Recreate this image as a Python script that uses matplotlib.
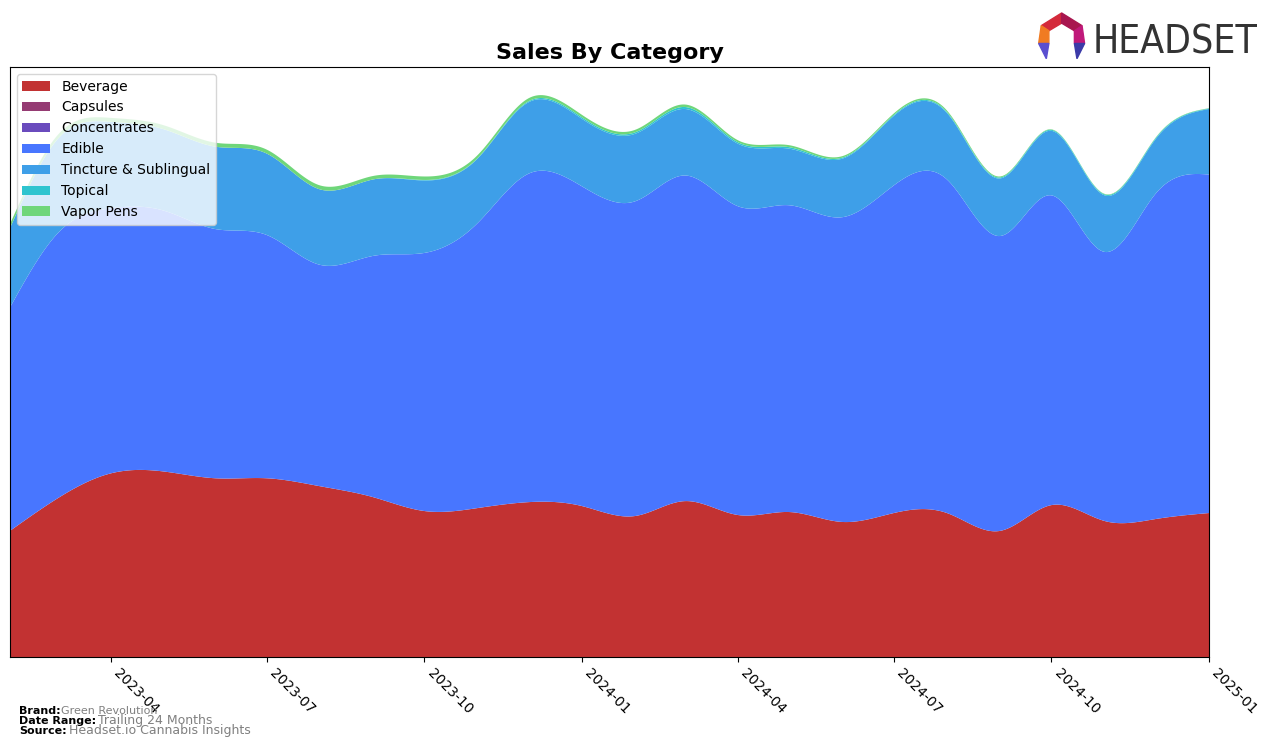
import numpy as np
import pandas as pd
import matplotlib.pyplot as plt
import matplotlib.dates as mdates
from matplotlib.patches import Polygon

months = pd.date_range("2023-02-01", "2025-01-01", freq="MS")

categories = ["Beverage", "Capsules", "Concentrates", "Edible",
              "Tincture & Sublingual", "Topical", "Vapor Pens"]
colors = ["#c23232", "#953b73", "#6a4bbd", "#4876ff",
          "#3e9fe8", "#2ec4cf", "#6fd67a"]

beverage = [127, 160, 185, 187, 180, 180, 172, 161, 147, 150, 156, 152,
            142, 157, 143, 146, 136, 145, 145, 127, 153, 137, 139, 145]
capsules = [0] * 24
concentrates = [0] * 24
edible = [225, 267, 267, 263, 251, 245, 223, 243, 260, 287, 331, 322,
          317, 328, 311, 309, 307, 330, 336, 297, 312, 271, 328, 341]
tincture = [80, 95, 87, 82, 83, 82, 76, 77, 73, 65, 72, 68,
            68, 67, 63, 57, 59, 70, 67, 58, 65, 57, 55, 66]
topical = [0, 0, 0, 0, 0, 0, 0, 0, 0.5, 0.5, 1, 1.5,
           1.5, 2, 1.5, 1.5, 1, 1, 1, 1, 1, 1, 1, 0.5]
vapor = [4, 4, 4, 4, 4, 4, 4, 3.5, 3.5, 3, 3, 2.5,
         2.5, 2.5, 2, 2, 1.5, 1.5, 1.5, 1, 0.5, 0.5, 0.5, 0.3]


def smooth(xn, yn, n=600):
    # natural cubic spline, only for drawing the curves
    xn = np.asarray(xn, float)
    yn = np.asarray(yn, float)
    k = len(xn)
    h = np.diff(xn)
    A = np.zeros((k, k))
    b = np.zeros(k)
    A[0, 0] = A[-1, -1] = 1
    for i in range(1, k - 1):
        A[i, i - 1] = h[i - 1]
        A[i, i] = 2 * (h[i - 1] + h[i])
        A[i, i + 1] = h[i]
        b[i] = 6 * ((yn[i + 1] - yn[i]) / h[i] - (yn[i] - yn[i - 1]) / h[i - 1])
    M = np.linalg.solve(A, b)
    xs = np.linspace(xn[0], xn[-1], n)
    idx = np.clip(np.searchsorted(xn, xs) - 1, 0, k - 2)
    x0, x1 = xn[idx], xn[idx + 1]
    hh = x1 - x0
    t0, t1 = x1 - xs, xs - x0
    ys = (M[idx] * t0**3 + M[idx + 1] * t1**3) / (6 * hh) \
        + (yn[idx] / hh - M[idx] * hh / 6) * t0 \
        + (yn[idx + 1] / hh - M[idx + 1] * hh / 6) * t1
    return xs, np.clip(ys, 0, None)


fig = plt.figure(figsize=(12.76, 7.47), dpi=100)
ax = fig.add_axes([0.0078, 0.1205, 0.9397, 0.7898])

xnum = mdates.date2num(months)
series = [beverage, capsules, concentrates, edible, tincture, topical, vapor]
sm = []
for s in series:
    xs, ys = smooth(xnum, s)
    sm.append(ys)
ax.stackplot(xs, *sm, colors=colors, labels=categories, linewidth=0)

total = np.sum(sm, axis=0)
ax.set_xlim(xnum[0], xnum[-1])
ax.set_ylim(0, total.max() * 1.05)
ax.set_yticks([])
ax.xaxis.set_major_locator(mdates.MonthLocator(bymonth=[1, 4, 7, 10]))
ax.xaxis.set_major_formatter(mdates.DateFormatter("%Y-%m"))
plt.setp(ax.get_xticklabels(), rotation=-45, ha="left")
ax.tick_params(axis="x", labelsize=10)

ax.legend(loc="upper left", fontsize=10)
ax.set_title("Sales By Category", fontsize=16, fontweight="bold")

# footer
fig.text(0.015, 0.044, "Brand:", fontsize=8, fontweight="bold")
fig.text(0.048, 0.044, "Green Revolution", fontsize=8, color="gray")
fig.text(0.015, 0.031, "Date Range:", fontsize=8, fontweight="bold")
fig.text(0.077, 0.031, "Trailing 24 Months", fontsize=9, color="gray")
fig.text(0.015, 0.018, "Source:", fontsize=8, fontweight="bold")
fig.text(0.054, 0.018, "Headset.io Cannabis Insights", fontsize=9, color="gray")

# logo
lax = fig.add_axes([0.812, 0.918, 0.04, 0.068])
lax.set_xlim(0, 1)
lax.set_ylim(0, 1)
lax.axis("off")
lax.add_patch(Polygon([[0.1, 0.7], [0.5, 0.95], [0.5, 0.75], [0.25, 0.6]], color="#d42a3b"))
lax.add_patch(Polygon([[0.5, 0.95], [0.9, 0.7], [0.75, 0.6], [0.5, 0.75]], color="#a8164f"))
lax.add_patch(Polygon([[0.1, 0.7], [0.25, 0.6], [0.25, 0.35], [0.05, 0.35]], color="#f07b22"))
lax.add_patch(Polygon([[0.9, 0.7], [0.75, 0.6], [0.75, 0.35], [0.95, 0.35]], color="#c0197a"))
lax.add_patch(Polygon([[0.05, 0.35], [0.25, 0.35], [0.2, 0.05]], color="#5a4fd0"))
lax.add_patch(Polygon([[0.95, 0.35], [0.75, 0.35], [0.8, 0.05]], color="#3b3aa8"))
fig.text(0.856, 0.928, "HEADSET", fontsize=28, color="#333333", fontstretch="condensed")

fig.savefig("out.png", dpi=100)
